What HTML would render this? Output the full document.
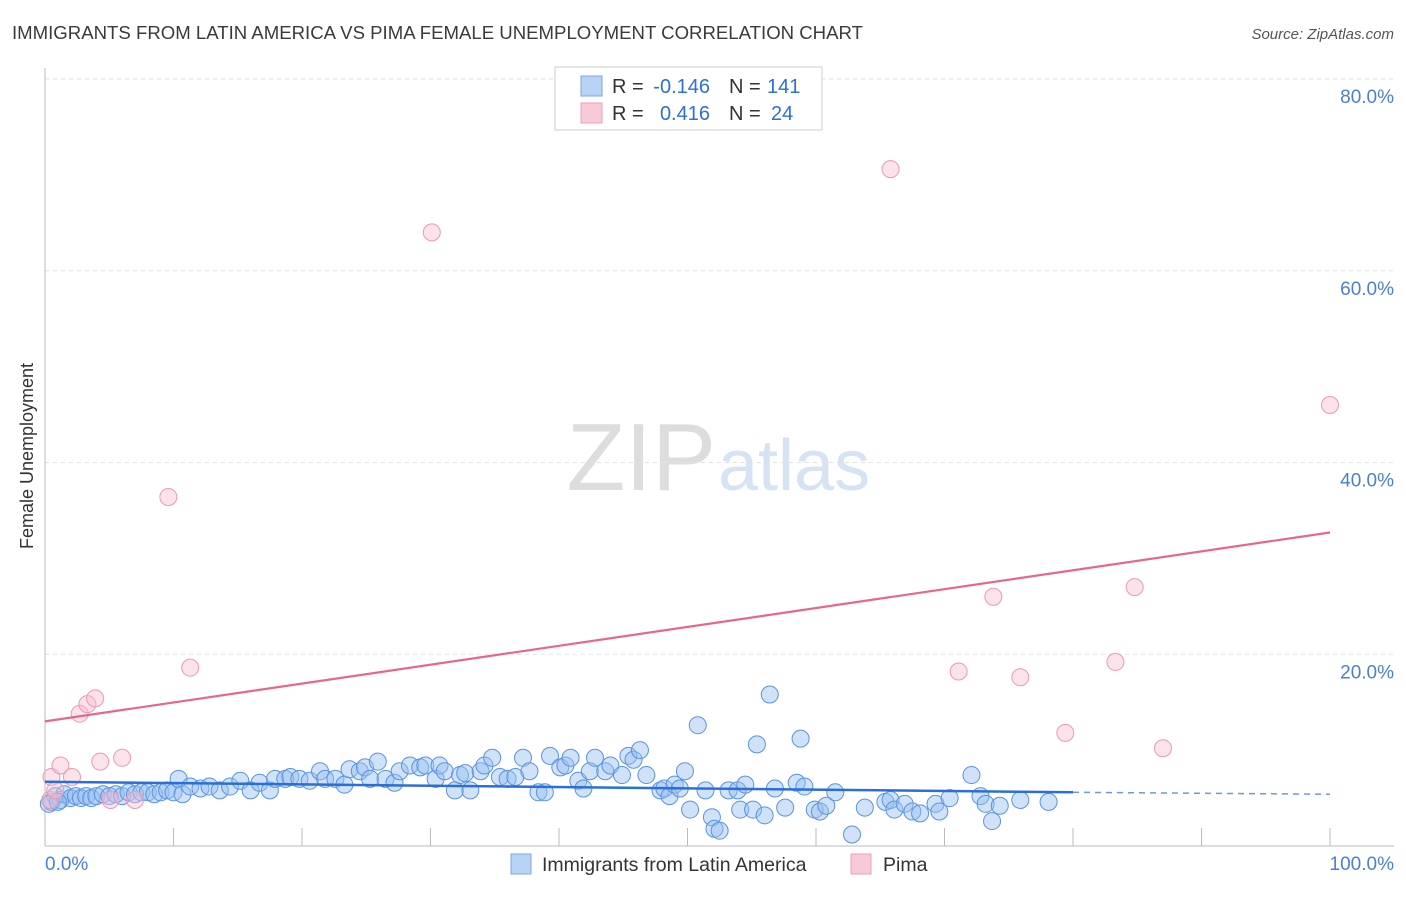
<!DOCTYPE html>
<html><head><meta charset="utf-8"><style>
body{margin:0;background:#fff;font-family:"Liberation Sans",sans-serif}
svg text{font-family:"Liberation Sans",sans-serif}
</style></head><body>
<svg id="c" width="1406" height="892">
<text x="12" y="39" font-size="18.6" fill="#3a3a3a">IMMIGRANTS FROM LATIN AMERICA VS PIMA FEMALE UNEMPLOYMENT CORRELATION CHART</text>
<text x="1394" y="39" font-size="15" fill="#555" font-style="italic" text-anchor="end">Source: ZipAtlas.com</text>
<text x="716" y="490" font-size="96" fill="#ddd" text-anchor="end" font-family="Liberation Serif">ZIP</text>
<text x="718" y="490" font-size="72" fill="#d6e3f5">atlas</text>
<text transform="translate(33,456) rotate(-90)" font-size="18" fill="#333" text-anchor="middle">Female Unemployment</text>
<g id="grid"></g><g id="marks"></g>
<rect x="555" y="67" width="267" height="63" fill="#fff" stroke="#ccc"/>
<rect x="581" y="76" width="21" height="20" fill="#b9d3f5" stroke="#7aa7e8"/>
<rect x="581" y="103" width="21" height="20" fill="#f8c9d6" stroke="#eba0b5"/>
<g font-size="20">
<text x="612" y="93" fill="#333">R =</text><text x="710" y="93" fill="#2e6fd9" text-anchor="end">-0.146</text>
<text x="729" y="93" fill="#333">N =</text><text x="767" y="93" fill="#2e6fd9">141</text>
<text x="612" y="120" fill="#333">R =</text><text x="710" y="120" fill="#2e6fd9" text-anchor="end">0.416</text>
<text x="729" y="120" fill="#333">N =</text><text x="771" y="120" fill="#2e6fd9">24</text>
</g>
<text x="45" y="870" font-size="19" fill="#4a7fd6">0.0%</text>
<text x="1394" y="870" font-size="19" fill="#4a7fd6" text-anchor="end">100.0%</text>
<rect x="511" y="854" width="20" height="20" fill="#b9d3f5" stroke="#7aa7e8"/>
<text x="542" y="871" font-size="19.5" fill="#333">Immigrants from Latin America</text>
<rect x="851" y="854" width="20" height="20" fill="#f8c9d6" stroke="#eba0b5"/>
<text x="883" y="871" font-size="19.5" fill="#333">Pima</text>
</svg>
<script>
const yTicks=[20,40,60,80];
const yTickLabels=["20.0%","40.0%","60.0%","80.0%"];
const xTicks=[10,20,30,40,50,60,70,80,90,100];
const blueX=[0.5,0.8,1.2,1.5,2,2.4,2.8,3.2,3.6,4,4.5,5,5.5,6,6.5,7,7.5,8,8.5,9,9.5,10,0.3,1,10.4,10.7,11.3,12.1,12.8,13.6,14.4,15.2,16.0,16.7,17.5,17.9,18.7,19.1,19.8,20.6,21.4,21.8,22.6,23.3,23.7,24.5,24.9,25.3,25.9,26.5,27.2,27.6,28.4,29.2,29.6,30.4,30.7,31.1,31.9,32.3,32.7,33.1,33.9,34.2,34.8,35.4,36.0,36.6,37.2,37.7,38.4,38.9,39.3,40.1,40.5,40.9,41.5,41.9,42.4,42.8,43.6,44.0,44.9,45.4,45.8,46.3,46.8,47.9,48.2,48.6,49.0,49.4,49.8,50.2,50.8,51.4,51.9,52.1,52.5,53.2,53.9,54.1,54.5,55.1,55.4,56.0,56.4,56.8,57.6,58.5,58.8,59.1,59.9,60.3,60.8,61.5,62.8,63.8,65.4,65.8,66.1,66.9,67.5,68.1,69.3,69.6,70.4,72.1,72.8,73.2,73.7,74.3,75.9,78.1];
const blueY=[4.6,5.2,4.8,5.4,5.0,5.2,5.0,5.2,5.0,5.2,5.4,5.2,5.4,5.2,5.6,5.4,5.6,5.6,5.4,5.6,5.8,5.6,4.4,4.6,7.0,5.4,6.2,6.0,6.2,5.8,6.2,6.8,5.8,6.6,5.8,7.0,7.0,7.2,7.0,6.8,7.8,7.0,7.0,6.4,8.0,7.8,8.2,7.0,8.8,7.0,6.6,7.8,8.4,8.2,8.4,7.0,8.4,7.8,5.8,7.4,7.6,5.8,7.8,8.4,9.2,7.2,7.0,7.2,9.2,7.8,5.6,5.6,9.4,8.2,8.4,9.2,6.8,6.0,7.8,9.2,7.8,8.4,7.4,9.4,9.0,10.0,7.4,5.8,6.0,5.2,6.4,6.0,7.8,3.8,12.6,5.8,3.0,1.8,1.6,5.8,5.8,3.8,6.4,3.8,10.6,3.2,15.8,6.0,4.0,6.6,11.2,6.2,3.8,3.6,4.2,5.6,1.2,4.0,4.6,4.8,3.8,4.4,3.6,3.4,4.4,3.6,5.0,7.4,5.2,4.4,2.6,4.2,4.8,4.6];
const pinkX=[0.4,0.5,0.8,1.2,2.1,2.7,3.3,3.9,4.3,5.1,6.0,7.0,9.6,11.3,30.1,65.8,71.1,73.8,75.9,79.4,83.3,84.8,87.0,100];
const pinkY=[4.8,7.2,5.8,8.4,7.2,13.8,14.8,15.4,8.8,4.8,9.2,4.8,36.4,18.6,64.0,70.6,18.2,26.0,17.6,11.8,19.2,27.0,10.2,46.0];
const blueTrend=[6.7,5.6,5.4];
const pinkTrend=[13.0,32.7];
const X=v=>45+v*12.85, Y=v=>846-v*9.5875;
const NS="http://www.w3.org/2000/svg";
const grid=document.getElementById('grid'),marks=document.getElementById('marks');
function mk(tag,a,p){const e=document.createElementNS(NS,tag);for(const k in a)e.setAttribute(k,a[k]);p.appendChild(e);return e;}
yTicks.forEach((t,i)=>{
 const l=mk('line',{x1:45,x2:1394,y1:Y(t),y2:Y(t),stroke:'#e2e2e2','stroke-dasharray':'4,4'},grid);
 
 
 const tx=mk('text',{x:1394,y:Y(t)+24,'font-size':19,fill:'#4a7fd6','text-anchor':'end'},grid);
 tx.textContent=yTickLabels[i];
 
 
});
const ax=mk('line',{x1:45,x2:1394,y1:846,y2:846,stroke:'#bbb'},grid);


const ay=mk('line',{x1:45,x2:45,y1:68,y2:846,stroke:'#bbb'},grid);


xTicks.forEach(t=>{
 const l=mk('line',{x1:X(t),x2:X(t),y1:828,y2:846,stroke:'#bbb'},grid);
 
 
});
blueX.forEach((x,i)=>{
 const c=mk('circle',{cx:X(x),cy:Y(blueY[i]),r:8.5,fill:'rgba(150,190,240,0.45)',stroke:'#5a93e0','stroke-width':1},marks);
 
 
});
pinkX.forEach((x,i)=>{
 const c=mk('circle',{cx:X(x),cy:Y(pinkY[i]),r:8.5,fill:'rgba(248,190,208,0.45)',stroke:'#eb9ab2','stroke-width':1},marks);
 
 
});
const bt=mk('line',{x1:X(0),y1:Y(blueTrend[0]),x2:X(80),y2:Y(blueTrend[1]),stroke:'#2a6fd6','stroke-width':2.5},marks);


const bd=mk('line',{x1:X(80),y1:Y(blueTrend[1]),x2:X(100),y2:Y(blueTrend[2]),stroke:'#6b9ae0','stroke-width':1.5,'stroke-dasharray':'6,5'},marks);


const pt=mk('line',{x1:X(0),y1:Y(pinkTrend[0]),x2:X(100),y2:Y(pinkTrend[1]),stroke:'#e6678e','stroke-width':2.2},marks);


</script>
</body></html>
